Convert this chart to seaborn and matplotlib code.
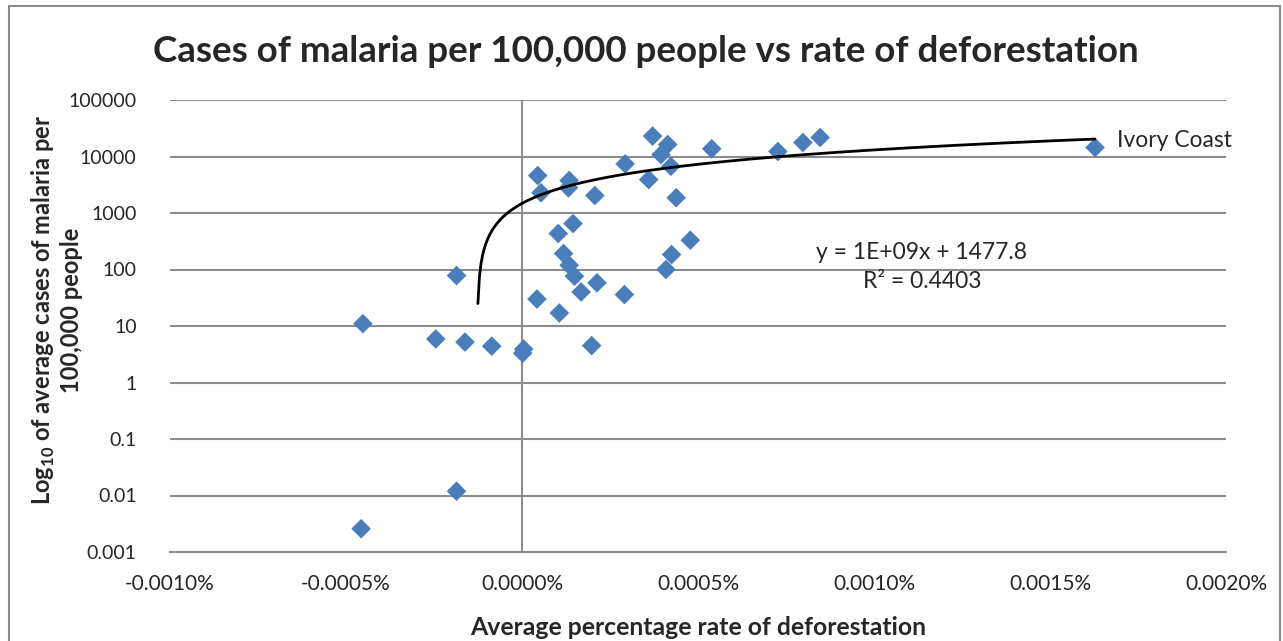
"""
Scatter of malaria cases (log scale) against average deforestation rate,
with the linear trendline drawn the way a spreadsheet would draw it.
"""

import numpy as np
import pandas as pd
import seaborn as sns
import matplotlib.pyplot as plt
from matplotlib.ticker import PercentFormatter, FuncFormatter
from matplotlib.patches import Rectangle

# average percentage rate of deforestation (in %)
deforestation_pct = [
    0.000371, 0.000414, 0.000395, 0.000423, 0.000539, 0.000293, 0.000360,
    0.000438, 0.0000446, 0.000054, 0.000134, 0.000132, 0.000207, 0.000145,
    0.000103, 0.000118, 0.000134, 0.000149, 0.000213, 0.000168, 0.000291,
    0.0000426, 0.000106, -0.000186, 0.000478, 0.000425, 0.000409,
    -0.000452, -0.000245, -0.000162, -0.000086, 0.0000048, 0.000002,
    0.000198, -0.000186, -0.000457, 0.000727, 0.000798, 0.000847, 0.001628,
]
# average cases of malaria per 100,000 people
malaria_cases = [
    23000, 16300, 10800, 6700, 13700, 7400, 3900,
    1860, 4600, 2280, 3760, 2790, 2040, 650,
    434, 192, 119, 76, 58, 40, 36,
    30, 17, 78, 330, 184, 100,
    11, 5.9, 5.2, 4.4, 3.9, 3.3,
    4.5, 0.0119, 0.00258, 12250, 17700, 21700, 14400,
]
countries = [''] * (len(malaria_cases) - 1) + ['Ivory Coast']

y_ticks = [0.001, 0.01, 0.1, 1, 10, 100, 1000, 10000, 100000]
x_ticks = [-0.0010, -0.0005, 0.0, 0.0005, 0.0010, 0.0015, 0.0020]

trend_slope = 1.16e9      # per unit fraction of deforestation
trend_intercept = 1477.8
equation_text = "y = 1E+09x + 1477.8\nR² = 0.4403"

df = pd.DataFrame({
    'deforestation': deforestation_pct,
    'cases': malaria_cases,
    'country': countries,
})

sns.set_style('white')
plt.rcParams['font.family'] = ['Lato', 'DejaVu Sans']
plt.rcParams['axes.unicode_minus'] = False
plt.rcParams['mathtext.fontset'] = 'custom'
plt.rcParams['mathtext.bf'] = 'Lato:bold'
plt.rcParams['mathtext.rm'] = 'Lato:bold'

GRID = '#8c8c8c'

fig = plt.figure(figsize=(12.83, 6.41), dpi=100)
ax = fig.add_axes([170 / 1283, 1 - 552 / 641, 1056 / 1283, 452 / 641])

# chart border
fig.patches.append(Rectangle((9 / 1283, -0.05), 1271 / 1283, 1 - 6 / 641 + 0.05,
                             transform=fig.transFigure, fill=False,
                             edgecolor='#8c8c8c', linewidth=1.5))

ax.set_yscale('log')
ax.set_xlim(-0.0010, 0.0020)
ax.set_ylim(0.001, 100000)

for yt in y_ticks[1:]:
    ax.axhline(yt, color=GRID, linewidth=1.5, zorder=0)
ax.axvline(0, color=GRID, linewidth=1.5, zorder=0)

sns.scatterplot(data=df, x='deforestation', y='cases', marker='D', s=100,
                color='#4a7ebb', edgecolor='none', ax=ax, zorder=3,
                legend=False)

# linear trendline, shown only where it is positive on the log axis
x_min = (25 - trend_intercept) / trend_slope * 100
x_max = max(deforestation_pct)
x_fit = np.linspace(x_min, x_max, 400)
y_fit = trend_slope * x_fit / 100 + trend_intercept
ax.plot(x_fit, y_fit, color='black', linewidth=2, zorder=4)

ax.text(0.712, 0.63, equation_text, transform=ax.transAxes, ha='center',
        va='center', fontsize=16.5, linespacing=1.5)

ivory = df[df['country'] == 'Ivory Coast'].iloc[0]
ax.annotate('Ivory Coast', (ivory['deforestation'], ivory['cases']),
            xytext=(16, 5), textcoords='offset points', ha='left',
            va='center', fontsize=16.5)

ax.set_xticks(x_ticks)
ax.set_yticks(y_ticks)
ax.xaxis.set_major_formatter(PercentFormatter(xmax=100, decimals=4))
ax.yaxis.set_major_formatter(FuncFormatter(lambda v, p: f'{v:g}'))
ax.minorticks_off()
ax.tick_params(axis='x', labelsize=15, length=0, pad=16)
ax.tick_params(axis='y', labelsize=14, length=0, pad=24)

for side in ['top', 'right', 'left']:
    ax.spines[side].set_visible(False)
ax.spines['bottom'].set_color(GRID)
ax.spines['bottom'].set_linewidth(1.5)

ax.set_xlabel('Average percentage rate of deforestation', fontsize=17.8,
              fontweight='bold', labelpad=16)
ax.set_ylabel('Log$_{10}$ of average cases of malaria per\n100,000 people',
              fontsize=17, fontweight='bold', linespacing=1.2)
ax.yaxis.set_label_coords(-0.082, 0.535)

fig.text(646 / 1283, 1 - 51 / 641,
         'Cases of malaria per 100,000 people vs rate of deforestation',
         ha='center', va='center', fontsize=26.5, fontweight='bold')

fig.savefig('out.png', dpi=100)
